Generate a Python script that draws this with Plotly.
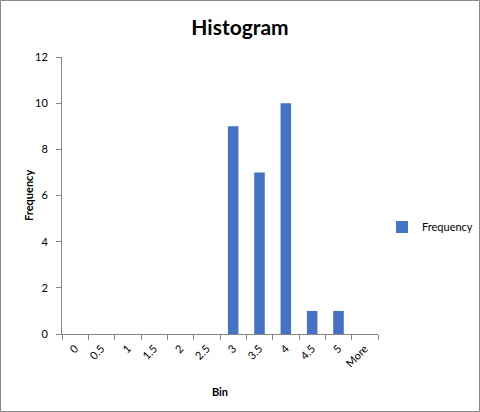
import plotly.graph_objects as go

bins = ["0", "0.5", "1", "1.5", "2", "2.5", "3", "3.5", "4", "4.5", "5", "More"]
frequency = [0, 0, 0, 0, 0, 0, 9, 7, 10, 1, 1, 0]

W, H = 480, 412
L, R, T, B = 62, 102, 57, 78
pw, ph = W - L - R, H - T - B

def px(x):
    return (x - L) / pw

def py(y):
    return 1 - (y - T) / ph

fig = go.Figure()
fig.add_trace(go.Bar(x=bins, y=frequency, name="Frequency", marker_color="#4472C4",
                     marker_line_width=0, showlegend=True))

FONT = "Lato, Open Sans, sans-serif"
axis_font = dict(family=FONT, size=11, color="#000000")
fig.update_layout(
    width=W, height=H,
    margin=dict(l=L, r=R, t=T, b=B, autoexpand=False),
    paper_bgcolor="white", plot_bgcolor="white",
    bargap=0.6,
    title=dict(text="<b>Histogram</b>", x=0.5, xanchor="center", y=1 - 28 / H, yanchor="middle",
               font=dict(family=FONT, size=21, color="#000000")),
    xaxis=dict(type="category", showline=True, linecolor="#868686", linewidth=1,
               ticks="outside", tickson="boundaries", ticklen=5, tickcolor="#868686",
               tickangle=-45, tickfont=axis_font, showgrid=False, automargin=False,
               ticklabelstandoff=3,
               title=dict(text="<b>Bin</b>", font=dict(family=FONT, size=11, color="#000000"), standoff=20)),
    yaxis=dict(range=[0, 12], dtick=2, showline=True, linecolor="#868686", linewidth=1,
               ticks="outside", ticklen=5, tickcolor="#868686", tickfont=axis_font,
               showgrid=False, zeroline=False, automargin=False,
               ticklabelstandoff=6),
    annotations=[dict(text="<b>Frequency</b>", xref="paper", yref="paper",
                      x=px(28), y=py(196), textangle=-90, showarrow=False,
                      xanchor="center", yanchor="middle",
                      font=dict(family=FONT, size=11, color="#000000"))],
    legend=dict(x=px(382), y=py(227), xanchor="left", yanchor="middle",
                font=dict(family=FONT, size=11, color="#000000"),
                bgcolor="rgba(0,0,0,0)", itemwidth=30),
    shapes=[dict(type="rect", xref="paper", yref="paper",
                 x0=px(0.5), x1=px(W - 0.5), y0=py(H - 0.5), y1=py(0.5),
                 line=dict(color="#868686", width=1), layer="below")],
)

fig.write_html("out.html", config={"displayModeBar": False},
               post_script="document.body.style.margin='0';document.body.style.padding='0';")
